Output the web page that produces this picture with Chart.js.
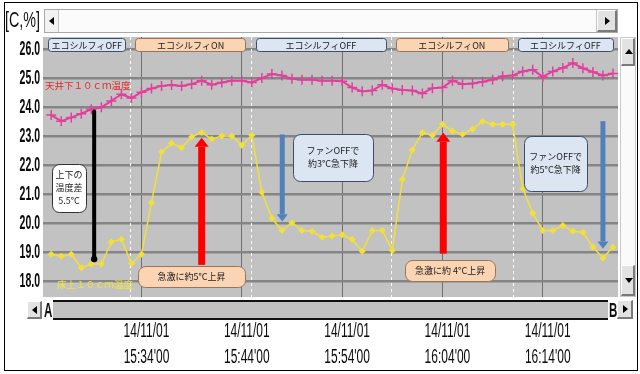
<!DOCTYPE html>
<html>
<head>
<meta charset="utf-8">
<script src="https://cdn.jsdelivr.net/npm/chart.js@4.4.1/dist/chart.umd.min.js"></script>
<style>
  html, body { margin: 0; padding: 0; background: #fff; }
  #wrap { position: relative; width: 640px; height: 374px; overflow: hidden; }
  #chart { position: absolute; left: 0; top: 0; }
  .narrow { font-family: 'Liberation Sans', Arial, sans-serif; transform-origin: 0 0; white-space: nowrap; }
  #frame { position: absolute; left: 4px; top: 2px; width: 634px; height: 369px; box-sizing: border-box; border: 1px solid #000; }
  #unit { position: absolute; left: 5px; top: 8px; font-size: 22px; line-height: 24px; color: #111; transform: scaleX(0.65); }
  .raised { position: absolute; box-sizing: border-box; background: #e2e2e2;
            border-top: 1px solid #fff; border-left: 1px solid #fff; border-right: 2px solid #7a7a7a; border-bottom: 2px solid #7a7a7a; }
  .tri { position: absolute; width: 0; height: 0; }
  .tl { border-top: 4px solid transparent; border-bottom: 4px solid transparent; border-right: 5px solid #000; }
  .tr { border-top: 4px solid transparent; border-bottom: 4px solid transparent; border-left: 5px solid #000; }
  .tu { border-left: 4px solid transparent; border-right: 4px solid transparent; border-bottom: 5px solid #000; }
  .td { border-left: 4px solid transparent; border-right: 4px solid transparent; border-top: 5px solid #000; }
  #hbar { position: absolute; left: 44px; top: 9px; width: 574px; height: 24px; box-sizing: border-box; border: 1px solid #a8a8a8; background: #f2f2f2; }
  #hthumb { position: absolute; left: 13px; top: 0; width: 539px; height: 22px; box-sizing: border-box; background: #fbfbfb; border-left: 1px solid #c4c4c4; border-right: 1px solid #c4c4c4; }
  #vbar { position: absolute; left: 620px; top: 37px; width: 16px; height: 260px; box-sizing: border-box; border: 1px solid #c8c8c8; background: #fafafa; }
  #slider { position: absolute; left: 53px; top: 300px; width: 555px; height: 20px; box-sizing: border-box; border-top: 2px solid #111; border-bottom: 2px solid #111; background: #c2c2c2; }
  .ab { position: absolute; top: 299px; font-size: 21px; font-weight: bold; line-height: 22px; color: #111; transform: scaleX(0.55); }
</style>
</head>
<body>
<div id="wrap">
  <canvas id="chart" width="640" height="374"></canvas>
  <div id="frame"></div>
  <div id="unit" class="narrow">[C,%]</div>
  <div id="hbar">
    <div class="tri tl" style="left:4px;top:7px"></div>
    <div id="hthumb"></div>
    <div class="raised" style="right:0;top:0;width:20px;height:22px"><div class="tri tr" style="left:7px;top:6px"></div></div>
  </div>
  <div id="vbar">
    <div class="raised" style="left:0;top:0;width:14px;height:28px"><div class="tri tu" style="left:3px;top:10px"></div></div>
    <div class="raised" style="left:0;bottom:0;width:14px;height:31px"><div class="tri td" style="left:3px;top:12px"></div></div>
  </div>
  <div class="raised" style="left:27px;top:301px;width:15px;height:18px"><div class="tri tl" style="left:4px;top:4px"></div></div>
  <div class="ab narrow" style="left:44px">A</div>
  <div id="slider"></div>
  <div class="ab narrow" style="left:609px">B</div>
  <div class="raised" style="left:617px;top:300px;width:16px;height:19px"><div class="tri tr" style="left:5px;top:4px"></div></div>
</div>
<script>
// Measurement times (one reading per minute)
const times = [
  '15:25', '15:26', '15:27', '15:28', '15:29', '15:30', '15:31', '15:32', '15:33', '15:34',
  '15:35', '15:36', '15:37', '15:38', '15:39', '15:40', '15:41', '15:42', '15:43', '15:44',
  '15:45', '15:46', '15:47', '15:48', '15:49', '15:50', '15:51', '15:52', '15:53', '15:54',
  '15:55', '15:56', '15:57', '15:58', '15:59', '16:00', '16:01', '16:02', '16:03', '16:04',
  '16:05', '16:06', '16:07', '16:08', '16:09', '16:10', '16:11', '16:12', '16:13', '16:14',
  '16:15', '16:16', '16:17', '16:18', '16:19', '16:20', '16:21'
];

// 10 cm below ceiling
const ceilingTemp = [
  23.73, 23.52, 23.65, 23.78, 23.93, 24.00, 24.22, 24.45, 24.32, 24.52,
  24.65, 24.74, 24.77, 24.74, 24.80, 24.92, 24.78, 24.86, 24.92, 24.92,
  24.86, 25.01, 25.15, 25.10, 24.99, 24.95, 24.95, 24.92, 24.92, 24.90,
  24.68, 24.55, 24.58, 24.78, 24.65, 24.60, 24.58, 24.48, 24.66, 24.68,
  24.92, 24.80, 24.82, 24.88, 24.95, 25.07, 25.10, 25.24, 25.30, 25.05,
  25.24, 25.36, 25.53, 25.35, 25.22, 25.10, 25.17
];

// 10 cm above floor
const floorTemp = [
  18.92, 18.85, 18.92, 18.45, 18.58, 18.58, 19.34, 19.44, 18.60, 18.92,
  20.70, 22.45, 22.76, 22.60, 22.97, 23.13, 22.90, 23.01, 23.01, 22.69,
  23.03, 21.06, 20.16, 19.74, 20.01, 19.74, 19.71, 19.51, 19.55, 19.59,
  19.43, 19.02, 19.74, 19.74, 19.05, 21.50, 22.52, 23.12, 23.03, 23.41,
  23.18, 23.07, 23.24, 23.52, 23.41, 23.41, 23.41, 21.20, 20.34, 19.74,
  19.74, 19.91, 19.71, 19.68, 19.17, 18.79, 19.17
];

const seriesNames = ['天井下１０ｃｍ温度', '床上１０ｃｍ温度'];
const yTickValues = [18, 19, 20, 21, 22, 23, 24, 25, 26];
const xTickDate = '14/11/01';
const xTickTimes = ['15:34', '15:44', '15:54', '16:04', '16:14'];
const viewStart = '15:24:11';
const viewEnd = '16:21:30';

// Eco-sylphy on/off switching
const switchTimes = ['15:32:54', '15:44:54', '15:58:51', '16:11:00'];
const modeNames = ['エコシルフィOFF', 'エコシルフィON', 'エコシルフィOFF', 'エコシルフィON', 'エコシルフィOFF'];

// Arrows (time, from, to in °C)
const arrowTimes = ['15:29:17', '15:40:00', '16:04:05', '15:48:02', '16:20:00'];
const arrowFrom = [23.85, 18.55, 18.94, 23.06, 23.52];
const arrowTo = [18.75, 22.95, 23.12, 20.05, 19.11];

// Notes
const noteTexts = [
  ['上下の', '温度差', '5.5°C'],
  ['急激に約5°C上昇'],
  ['ファンOFFで', '約3°C急下降'],
  ['急激に約 4°C上昇'],
  ['ファンOFFで', '約5°C急下降']
];
const noteTimes = ['15:26:46', '15:38:59', '15:53:05', '16:04:46', '16:15:17'];
const noteTemps = [21.22, 18.14, 22.27, 18.35, 22.06];
const seriesLabelTimes = ['15:24:23', '15:25:35'];
const seriesLabelTemps = [24.76, 17.89];

// --- styles ---
const PINK = '#e0409c';
const YELLOW = '#f2df38';
const CJK = "'Noto Sans CJK JP', sans-serif";
const TICK_FONT = "'Liberation Sans', Arial, sans-serif";
const OFF_FILL = '#dce6f2', OFF_LINE = '#3a4e6a';
const ON_FILL = '#fbd4b4', ON_LINE = '#9a7358';
const arrowStyles = [
  { color: '#000', shaft: 4, head: 0 },
  { color: '#ff0000', shaft: 7, head: 14 },
  { color: '#ff0000', shaft: 7, head: 14 },
  { color: '#4f81bd', shaft: 5, head: 11 },
  { color: '#4f81bd', shaft: 5, head: 11 }
];
const noteStyles = [
  { w: 34, h: 48, fill: '#ffffff', line: '#333' },
  { w: 107, h: 21, fill: ON_FILL, line: ON_LINE },
  { w: 80, h: 47, fill: OFF_FILL, line: OFF_LINE },
  { w: 90, h: 21, fill: ON_FILL, line: ON_LINE },
  { w: 63, h: 55, fill: OFF_FILL, line: OFF_LINE }
];

// "15:34" or "15:34:20" -> minutes of the day
function toMin(t) {
  const p = t.split(':').map(Number);
  return p[0] * 60 + p[1] + (p[2] || 0) / 60;
}

function roundBox(ctx, x, y, w, h, r, fill, line) {
  ctx.beginPath();
  ctx.roundRect(x, y, w, h, r);
  ctx.fillStyle = fill;
  ctx.fill();
  ctx.lineWidth = 1;
  ctx.strokeStyle = line;
  ctx.stroke();
}

// condensed text (the logger uses a tall narrow font)
function narrowText(ctx, text, x, y, font, sx, align) {
  ctx.save();
  ctx.translate(x, y);
  ctx.scale(sx, 1);
  ctx.font = font + ' ' + TICK_FONT;
  ctx.textAlign = align;
  ctx.textBaseline = 'middle';
  ctx.fillText(text, 0, 0);
  ctx.restore();
}

const overlay = {
  id: 'overlay',
  beforeDraw(chart) {
    const { ctx, chartArea: a } = chart;
    ctx.save();
    ctx.fillStyle = '#c2c2c2';
    ctx.fillRect(a.left, a.top, a.width, a.height);
    ctx.restore();
  },
  beforeDatasetsDraw(chart) {
    const { ctx, chartArea: a, scales: { x } } = chart;
    ctx.save();
    ctx.strokeStyle = '#ffffff';
    ctx.lineWidth = 1;
    ctx.setLineDash([3, 3]);
    switchTimes.forEach(t => {
      const px = Math.round(x.getPixelForValue(toMin(t))) + 0.5;
      ctx.beginPath();
      ctx.moveTo(px, a.top);
      ctx.lineTo(px, a.bottom);
      ctx.stroke();
    });
    ctx.restore();
  },
  afterDatasetsDraw(chart) {
    const { ctx, chartArea: a, scales: { x, y } } = chart;
    ctx.save();

    // mode boxes along the top
    const bounds = [x.min, ...switchTimes.map(toMin), x.max];
    ctx.font = '9px ' + CJK;
    ctx.textAlign = 'center';
    ctx.textBaseline = 'middle';
    modeNames.forEach((name, i) => {
      const l = x.getPixelForValue(bounds[i]) + 5;
      const r = x.getPixelForValue(bounds[i + 1]) - 5;
      const on = name.endsWith('ON');
      roundBox(ctx, Math.round(l) + 0.5, a.top + 1.5, Math.round(r - l), 13, 3,
        on ? ON_FILL : OFF_FILL, on ? ON_LINE : OFF_LINE);
      ctx.fillStyle = '#1a1a1a';
      ctx.fillText(name, (l + r) / 2, a.top + 8.5);
    });

    // series names
    ctx.font = '9.5px ' + CJK;
    ctx.textAlign = 'left';
    ['#e8262a', '#f4e43a'].forEach((c, i) => {
      ctx.fillStyle = c;
      ctx.fillText(seriesNames[i], x.getPixelForValue(toMin(seriesLabelTimes[i])), y.getPixelForValue(seriesLabelTemps[i]));
    });

    // arrows
    arrowTimes.forEach((t, i) => {
      const s = arrowStyles[i];
      const px = x.getPixelForValue(toMin(t));
      const y0 = y.getPixelForValue(arrowFrom[i]);
      const y1 = y.getPixelForValue(arrowTo[i]);
      if (!s.head) {
        ctx.strokeStyle = s.color;
        ctx.lineWidth = s.shaft;
        ctx.lineCap = 'round';
        ctx.beginPath();
        ctx.moveTo(px, y0);
        ctx.lineTo(px, y1);
        ctx.stroke();
        ctx.beginPath();
        ctx.arc(px, y1, s.shaft * 0.8, 0, Math.PI * 2);
        ctx.fillStyle = s.color;
        ctx.fill();
        return;
      }
      const dir = Math.sign(y1 - y0);
      const headLen = s.head * 0.65;
      const yb = y1 - dir * headLen;
      ctx.fillStyle = s.color;
      ctx.fillRect(px - s.shaft / 2, Math.min(y0, yb), s.shaft, Math.abs(yb - y0));
      ctx.beginPath();
      ctx.moveTo(px - s.head / 2, yb);
      ctx.lineTo(px + s.head / 2, yb);
      ctx.lineTo(px, y1);
      ctx.closePath();
      ctx.fill();
    });

    // notes
    ctx.font = '9px ' + CJK;
    ctx.textAlign = 'center';
    noteTexts.forEach((lines, i) => {
      const s = noteStyles[i];
      const cx = x.getPixelForValue(toMin(noteTimes[i]));
      const cy = y.getPixelForValue(noteTemps[i]);
      const bx = Math.round(cx - s.w / 2) + 0.5;
      const by = Math.round(cy - s.h / 2) + 0.5;
      roundBox(ctx, bx, by, s.w, s.h, 7, s.fill, s.line);
      ctx.fillStyle = '#1a1a1a';
      const lh = 13;
      lines.forEach((ln, k) => {
        ctx.fillText(ln, cx, cy + (k - (lines.length - 1) / 2) * lh);
      });
    });

    ctx.restore();
  },
  afterDraw(chart) {
    // axis labels from the scales' own ticks, drawn condensed
    const { ctx, chartArea: a, scales: { x, y } } = chart;
    ctx.save();
    ctx.fillStyle = '#0a0a0a';
    y.ticks.forEach(t => {
      narrowText(ctx, t.label, a.left - 3, y.getPixelForValue(t.value), 'bold 21px', 0.5, 'right');
    });
    x.ticks.forEach(t => {
      const px = x.getPixelForValue(t.value) + 5;
      t.label.forEach((ln, k) => narrowText(ctx, ln, px, a.bottom + 34 + k * 26, '20px', 0.6, 'center'));
    });
    ctx.restore();
  }
};

function toPoints(values) {
  return times.map((t, i) => ({ x: toMin(t), y: values[i] }));
}

new Chart(document.getElementById('chart'), {
  type: 'line',
  data: {
    datasets: [{
      label: seriesNames[0],
      data: toPoints(ceilingTemp),
      borderColor: PINK,
      borderWidth: 2,
      pointStyle: 'cross',
      pointRadius: 5,
      pointBorderWidth: 1.5,
      pointBorderColor: PINK,
      tension: 0
    }, {
      label: seriesNames[1],
      data: toPoints(floorTemp),
      borderColor: YELLOW,
      borderWidth: 1.5,
      pointStyle: 'rectRot',
      pointRadius: 3.5,
      pointBorderWidth: 0,
      pointBackgroundColor: YELLOW,
      tension: 0
    }]
  },
  options: {
    responsive: false,
    animation: false,
    devicePixelRatio: 1,
    layout: { padding: { left: 0, top: 37, right: 22, bottom: 0 } },
    plugins: { legend: { display: false }, tooltip: { enabled: false } },
    scales: {
      x: {
        type: 'linear',
        min: toMin(viewStart),
        max: toMin(viewEnd),
        afterBuildTicks: axis => { axis.ticks = xTickTimes.map(t => ({ value: toMin(t) })); },
        afterFit: axis => { axis.height = 77; },
        border: { display: false },
        grid: { color: '#6e6e6e', lineWidth: 1, drawTicks: false },
        ticks: {
          display: false,
          autoSkip: false,
          maxRotation: 0,
          callback: (v, i) => [xTickDate, xTickTimes[i] + "'00"]
        }
      },
      y: {
        min: 17.44,
        max: 26.43,
        afterBuildTicks: axis => { axis.ticks = yTickValues.map(v => ({ value: v })); },
        afterFit: axis => { axis.width = 43; },
        border: { display: false },
        grid: { color: '#858585', lineWidth: 2.5, drawTicks: false },
        ticks: {
          display: false,
          callback: v => v.toFixed(1)
        }
      }
    }
  },
  plugins: [overlay]
});
</script>
</body>
</html>
